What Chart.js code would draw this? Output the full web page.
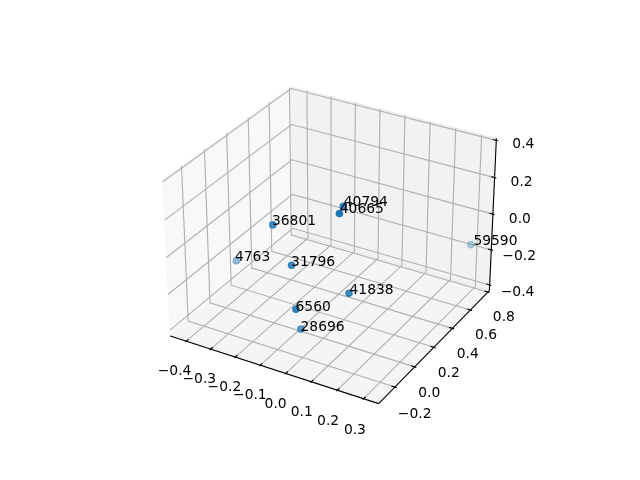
<!DOCTYPE html>
<html>
<head>
<meta charset="utf-8">
<style>html,body{margin:0;padding:0;background:#fff}canvas{display:block}</style>
<script src="https://cdn.jsdelivr.net/npm/chart.js@4"></script>
</head>
<body>
<canvas id="c" width="640" height="480"></canvas>
<script>
const pointLabels = ['40794','40665','36801','59590','4763','31796','41838','6560','28696'];
const pointX = [0.052,0.076,-0.167,0.302,-0.361,-0.063,0.127,0.002,-0.040];
const pointY = [0.064,-0.033,-0.071,0.737,0.025,-0.146,-0.067,-0.263,-0.120];
const pointZ = [0.274,0.291,0.155,-0.154,-0.163,0.017,-0.094,-0.133,-0.335];
const xTicks = [-0.4,-0.3,-0.2,-0.1,0.0,0.1,0.2,0.3];
const yTicks = [-0.2,0.0,0.2,0.4,0.6,0.8];
const zTicks = [-0.4,-0.2,0.0,0.2,0.4];
const xLim = [-0.45,0.34];
const yLim = [-0.336,0.793];
const zLim = [-0.416,0.394];

const elev = 30*Math.PI/180, azim = -60*Math.PI/180, dist = 10, zoom = 1.021;
const boxA = 1.8294640721620434/Math.hypot(4,4,3);
const box = [4*boxA,4*boxA,3*boxA];
const wDir = [Math.cos(elev)*Math.cos(azim),Math.cos(elev)*Math.sin(azim),Math.sin(elev)];
const uDir = [-Math.sin(azim),Math.cos(azim),0];
const vDir = [-Math.sin(elev)*Math.cos(azim),-Math.sin(elev)*Math.sin(azim),Math.cos(elev)];
const dot=(a,b)=>a[0]*b[0]+a[1]*b[1]+a[2]*b[2];
function rel(x,y,z){return [
  ((x-xLim[0])/(xLim[1]-xLim[0])-0.5)*box[0],
  ((y-yLim[0])/(yLim[1]-yLim[0])-0.5)*box[1],
  ((z-zLim[0])/(zLim[1]-zLim[0])-0.5)*box[2]];}
function depth(x,y,z){return dot(rel(x,y,z),wDir);}
function P(x,y,z){
  const r=rel(x,y,z), w=dist-dot(r,wDir);
  const X=dot(r,uDir)/w, Y=dot(r,vDir)/w;
  return {x:333+zoom*X/0.185*369.6, y:237.4-zoom*Y/0.185*369.6};
}
const pad=a=>{const d=(a[1]-a[0])/48;return [a[0]-d,a[1]+d];};
const [x0,x1]=pad(xLim),[y0,y1]=pad(yLim),[z0,z1]=pad(zLim);
const tx=(xLim[1]-xLim[0])/12, ty=(yLim[1]-yLim[0])/12;

const datasets=[];
function poly(pts,color,width,order,fill){
  datasets.push({data:pts,showLine:true,pointRadius:0,borderColor:color,borderWidth:width,
    backgroundColor:fill||'transparent',fill:fill?'shape':false,order:order,tension:0,clip:false,
    borderJoinStyle:'miter',borderCapStyle:'butt'});
}
// panes
poly([P(x0,y0,z0),P(x0,y1,z0),P(x0,y1,z1),P(x0,y0,z1),P(x0,y0,z0)],'rgba(242,242,242,0.5)',1,100,'rgba(242,242,242,0.5)');
poly([P(x0,y1,z0),P(x1,y1,z0),P(x1,y1,z1),P(x0,y1,z1),P(x0,y1,z0)],'rgba(230,230,230,0.5)',1,100,'rgba(230,230,230,0.5)');
poly([P(x0,y0,z0),P(x1,y0,z0),P(x1,y1,z0),P(x0,y1,z0),P(x0,y0,z0)],'rgba(236,236,236,0.5)',1,100,'rgba(236,236,236,0.5)');
// grid
const gridC='#b0b0b0', gw=1.11;
xTicks.forEach(t=>poly([P(t,y0,z0),P(t,y1,z0),P(t,y1,z1)],gridC,gw,50));
yTicks.forEach(t=>poly([P(x1,t,z0),P(x0,t,z0),P(x0,t,z1)],gridC,gw,50));
zTicks.forEach(t=>poly([P(x0,y0,t),P(x0,y1,t),P(x1,y1,t)],gridC,gw,50));
// axis lines
poly([P(x0,y0,z0),P(x1,y0,z0)],'#000',1.11,40);
poly([P(x1,y0,z0),P(x1,y1,z0)],'#000',1.11,40);
poly([P(x1,y1,z0),P(x1,y1,z1)],'#000',1.11,40);
// tick marks
xTicks.forEach(t=>poly([P(t,y0+0.2*ty,z0),P(t,y0-0.1*ty,z0)],'#000',1.11,40));
yTicks.forEach(t=>poly([P(x1-0.2*tx,t,z0),P(x1+0.1*tx,t,z0)],'#000',1.11,40));
zTicks.forEach(t=>poly([P(x1-0.2*tx,y1,t),P(x1+0.1*tx,y1,t)],'#000',1.11,40));
// points, far ones first
const ds=pointX.map((_,i)=>depth(pointX[i],pointY[i],pointZ[i]));
const dMin=Math.min(...ds),dMax=Math.max(...ds);
const idx=pointX.map((_,i)=>i).sort((a,b)=>ds[a]-ds[b]);
const cols=idx.map(i=>`rgba(31,119,180,${(0.3+0.7*(ds[i]-dMin)/(dMax-dMin)).toFixed(3)})`);
datasets.push({data:idx.map(i=>P(pointX[i],pointY[i],pointZ[i])),showLine:false,pointRadius:3.1,
  pointBorderWidth:1.4,pointBackgroundColor:cols,pointBorderColor:cols,order:10,clip:false});

const fmt=v=>{const s=Math.abs(v).toFixed(1);return (v<0?'\u2212':'')+s;};
const textPlugin={id:'texts',afterDraw(chart){
  const c=chart.ctx;c.save();c.fillStyle='#000';c.font='13.89px "DejaVu Sans"';c.textBaseline='alphabetic';
  c.textAlign='center';
  xTicks.forEach(t=>{const p=P(t,y0,z0);c.fillText(fmt(t),p.x-9.5,p.y+31.3);});
  yTicks.forEach(t=>{const p=P(x1,t,z0);c.fillText(fmt(t),p.x+(t<0?18.5:13),p.y+27.5);});
  zTicks.forEach(t=>{const p=P(x1,y1,t);c.fillText(fmt(t),p.x+(t<0?25:24),p.y+9.7);});
  c.textAlign='left';
  pointLabels.forEach((l,i)=>{const p=P(pointX[i],pointY[i],pointZ[i]);c.fillText(l,p.x,p.y);});
  c.restore();
}};
new Chart(document.getElementById('c'),{
  type:'scatter',
  data:{datasets},
  options:{responsive:false,animation:false,events:[],
    layout:{padding:0},
    plugins:{legend:{display:false},tooltip:{enabled:false}},
    scales:{x:{type:'linear',display:false,min:0,max:640},
            y:{type:'linear',display:false,min:0,max:480,reverse:true}}},
  plugins:[textPlugin]
});
</script>
</body>
</html>
